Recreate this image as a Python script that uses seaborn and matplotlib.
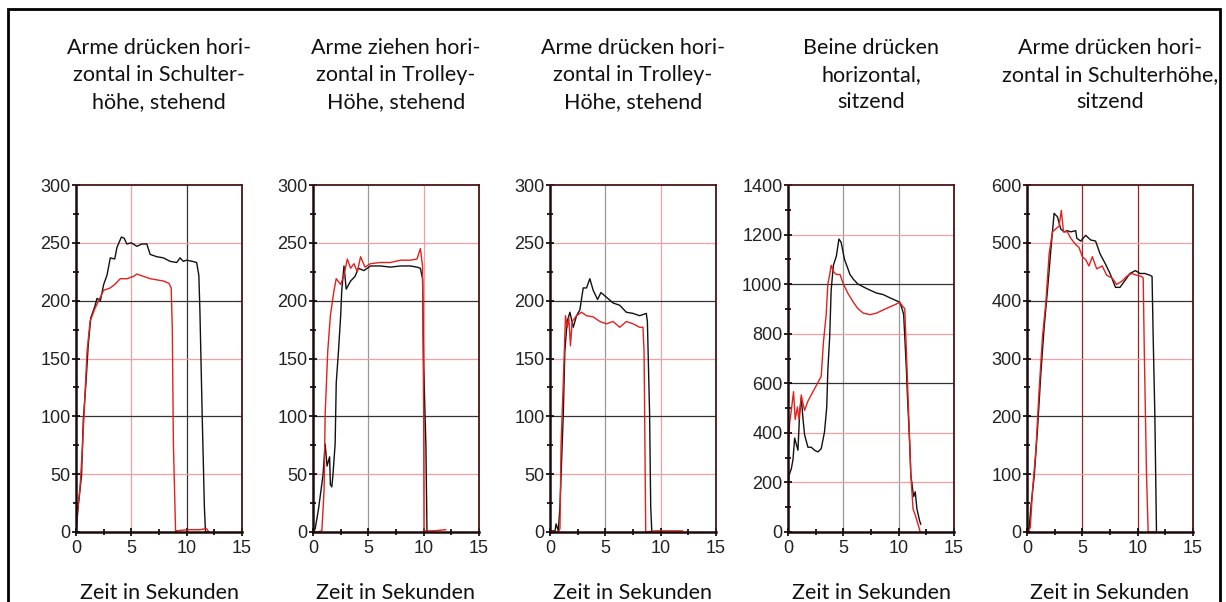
# Kraftverläufe bei fünf Tätigkeiten, schwarz und rot je eine Messung
import numpy as np
import pandas as pd
import matplotlib.pyplot as plt
from matplotlib.patches import Rectangle
import seaborn as sns

sns.set_style('white')
plt.rcParams['font.family'] = ['Liberation Sans', 'DejaVu Sans']

# Titel der Diagramme
titel = [
    "Arme drücken hori-\nzontal in Schulter-\nhöhe, stehend",
    "Arme ziehen hori-\nzontal in Trolley-\nHöhe, stehend",
    "Arme drücken hori-\nzontal in Trolley-\nHöhe, stehend",
    "Beine drücken\nhorizontal,\nsitzend",
    "Arme drücken hori-\nzontal in Schulterhöhe,\nsitzend",
]
x_label = "Zeit in Sekunden"

# Panel 1: Arme drücken, Schulterhöhe, stehend
p1_t_schwarz = [0, 0.2, 0.5, 0.66, 0.9, 1.1, 1.33, 1.7, 1.9, 2.2, 2.5, 2.8, 3.1, 3.5, 3.7, 4.1, 4.35, 4.6,
                5.0, 5.5, 5.95, 6.4, 6.7, 7.3, 7.9, 8.5, 9.1, 9.4, 9.7, 10.0, 10.5, 10.9, 11.1, 11.2, 11.4,
                11.6, 11.7, 12.0]
p1_y_schwarz = [0, 22, 49, 97, 129, 161, 185, 195, 202, 200, 214, 222, 237, 236, 246, 255, 254, 249,
                250, 247, 249, 249, 240, 238, 237, 234, 233, 237, 234, 235, 234, 233, 222, 190, 102,
                22, 0, 0]
p1_t_rot = [0, 0.1, 0.36, 0.6, 0.8, 1.0, 1.27, 1.7, 2.2, 2.5, 3.1, 3.5, 4.0, 4.6, 5.2, 5.5, 6.1, 6.7,
            7.3, 7.9, 8.4, 8.6, 8.7, 8.8, 9.0, 9.1, 10.0, 11.2, 11.8, 12.0]
p1_y_rot = [1, 15, 38, 76, 116, 156, 182, 193, 203, 209, 211, 214, 219, 219, 221, 223, 221, 219,
            218, 217, 215, 211, 177, 76, 0, 1, 2, 2, 3, 0]

# Panel 2: Arme ziehen, Trolley-Höhe, stehend
p2_t_schwarz = [0, 0.2, 0.5, 0.9, 1.1, 1.27, 1.5, 1.57, 1.7, 1.8, 2.0, 2.1, 2.3, 2.5, 2.6, 2.8, 3.0,
                3.4, 3.8, 4.1, 4.6, 5.2, 6.1, 7.0, 7.9, 8.8, 9.4, 9.7, 9.9, 10.0, 10.2, 10.3]
p2_y_schwarz = [0, 3, 20, 49, 76, 57, 65, 41, 39, 49, 76, 129, 156, 187, 209, 230, 210,
                217, 221, 228, 226, 230, 230, 229, 230, 230, 229, 228, 219, 142, 76, 0]
p2_t_rot = [0, 0.4, 0.8, 1.0, 1.1, 1.33, 1.57, 1.9, 2.1, 2.5, 2.8, 3.1, 3.4, 3.7, 4.0, 4.3, 4.7, 5.2,
            6.1, 7.0, 7.9, 8.8, 9.4, 9.7, 9.9, 10.0, 10.03, 10.9, 12.0]
p2_y_rot = [1, 0, 1, 36, 102, 156, 187, 209, 219, 214, 222, 236, 228, 232, 225, 238, 229, 232,
            233, 233, 235, 235, 236, 245, 230, 102, 1, 1, 2]

# Panel 3: Arme drücken, Trolley-Höhe, stehend
p3_t_schwarz = [0, 0.45, 0.55, 0.75, 0.9, 1.0, 1.2, 1.34, 1.55, 1.8, 2.1, 2.4, 2.7, 3.0, 3.3, 3.6, 3.9,
                4.3, 4.6, 5.1, 5.7, 6.3, 6.9, 7.5, 8.1, 8.7, 8.8, 9.0, 9.1, 9.2]
p3_y_schwarz = [1, 1, 7, 1, 22, 49, 102, 156, 182, 190, 177, 187, 192, 211, 211, 219, 209,
                201, 207, 203, 198, 196, 190, 189, 187, 189, 182, 102, 22, 0]
p3_t_rot = [0, 0.75, 0.9, 1.0, 1.2, 1.4, 1.55, 1.7, 1.85, 2.0, 2.4, 2.85, 3.3, 3.9, 4.5, 5.1, 5.7, 6.3,
            6.9, 7.5, 8.1, 8.4, 8.5, 8.65, 9.5, 12.0]
p3_y_rot = [1, 0, 3, 76, 129, 187, 177, 185, 161, 182, 187, 190, 187, 186, 182, 180, 182, 177,
            182, 180, 177, 177, 156, 0, 1, 1]

# Panel 4: Beine drücken, sitzend
p4_t_schwarz = [0, 0.1, 0.3, 0.45, 0.6, 0.75, 0.9, 1.05, 1.2, 1.36, 1.5, 1.8, 2.1, 2.4, 2.7, 3.0, 3.3,
                3.5, 3.6, 3.77, 3.9, 4.1, 4.37, 4.6, 4.8, 5.1, 5.6, 5.9, 6.3, 6.8, 7.4, 8.0, 8.6, 9.2,
                9.8, 10.1, 10.3, 10.45, 10.55, 10.7, 10.8, 11.0, 11.1, 11.35, 11.5, 11.65, 11.9, 12.0]
p4_y_schwarz = [168, 230, 255, 292, 379, 354, 330, 479, 541, 454, 392, 342, 342, 330, 323, 336, 404,
                503, 653, 790, 976, 1076, 1113, 1182, 1169, 1101, 1039, 1020, 1001, 989, 976, 964, 958, 945,
                933, 927, 902, 877, 790, 653, 541, 354, 230, 143, 162, 93, 44, 31]
p4_t_rot = [0, 0.15, 0.3, 0.5, 0.65, 0.85, 1.0, 1.2, 1.36, 1.5, 1.8, 2.1, 2.4, 2.7, 3.0, 3.2, 3.45, 3.6,
            3.77, 3.9, 4.1, 4.37, 4.7, 5.0, 5.4, 5.9, 6.3, 6.8, 7.4, 8.0, 8.6, 9.2, 9.8, 10.1, 10.4,
            10.55, 10.7, 10.8, 11.0, 11.1, 11.3, 11.5, 11.75, 11.95]
p4_y_rot = [305, 441, 491, 566, 454, 504, 454, 553, 516, 491, 528, 553, 578, 603, 628, 765, 877, 1001,
            1039, 1076, 1051, 1039, 1039, 1001, 964, 927, 902, 883, 877, 883, 896, 908, 920, 927, 908,
            902, 728, 603, 354, 230, 93, 68, 31, 0]

# Panel 5: Arme drücken, Schulterhöhe, sitzend
p5_t_schwarz = [0, 0.2, 0.36, 0.66, 0.95, 1.25, 1.55, 1.85, 2.15, 2.45, 2.75, 3.05, 3.35, 3.65, 3.95,
                4.4, 4.5, 4.85, 5.3, 5.75, 6.2, 6.6, 7.1, 7.5, 8.0, 8.4, 8.9, 9.3, 9.8, 10.2, 10.65,
                11.1, 11.3, 11.4, 11.55, 11.7]
p5_y_schwarz = [0, 8, 45, 98, 178, 274, 354, 418, 487, 551, 545, 524, 519, 521, 519,
                521, 508, 503, 513, 505, 503, 481, 463, 447, 423, 423, 436, 447, 452, 447, 447,
                444, 442, 338, 205, 0]
p5_t_rot = [0, 0.1, 0.3, 0.5, 0.8, 1.1, 1.4, 1.7, 2.0, 2.3, 2.6, 2.9, 3.1, 3.3, 3.65, 3.95, 4.4, 4.7,
            5.0, 5.3, 5.6, 5.9, 6.3, 6.8, 7.2, 7.7, 8.1, 8.6, 9.0, 9.45, 9.9, 10.35, 10.5, 10.6, 10.65,
            10.8, 10.95, 11.7]
p5_y_rot = [19, 0, 8, 72, 141, 247, 338, 396, 481, 519, 524, 529, 556, 519, 519, 508, 497, 492,
            476, 471, 460, 476, 455, 460, 444, 439, 428, 434, 442, 447, 444, 442, 439, 311, 258,
            98, 0, 0]

kurven = [
    (p1_t_schwarz, p1_y_schwarz, p1_t_rot, p1_y_rot),
    (p2_t_schwarz, p2_y_schwarz, p2_t_rot, p2_y_rot),
    (p3_t_schwarz, p3_y_schwarz, p3_t_rot, p3_y_rot),
    (p4_t_schwarz, p4_y_schwarz, p4_t_rot, p4_y_rot),
    (p5_t_schwarz, p5_y_schwarz, p5_t_rot, p5_y_rot),
]

# y-Achsen: Maximum, Hauptteilung
y_max = [300, 300, 300, 1400, 600]
y_step = [50, 50, 50, 200, 100]

# Gitterfarben
ROT = '#f0a0a0'
SCHWARZ = '#333333'
DUNKELROT = '#a02020'
GRAU = '#999999'
v_grid = [(ROT, SCHWARZ), (GRAU, ROT), (GRAU, ROT), (GRAU, GRAU), (DUNKELROT, DUNKELROT)]
h_grid = [
    {50: ROT, 100: SCHWARZ, 150: ROT, 200: SCHWARZ, 250: ROT},
    {50: ROT, 100: SCHWARZ, 150: ROT, 200: SCHWARZ, 250: ROT},
    {50: ROT, 100: SCHWARZ, 150: ROT, 200: SCHWARZ, 250: ROT},
    {200: ROT, 400: ROT, 600: SCHWARZ, 800: ROT, 1000: SCHWARZ, 1200: ROT},
    {100: ROT, 200: SCHWARZ, 300: ROT, 400: SCHWARZ, 500: ROT},
]

W, H = 1226, 602
fig = plt.figure(figsize=(W / 100, H / 100), dpi=100)
fig.patches.append(Rectangle((8 / W, -0.1), 1212 / W, 1.1 - 9 / H, transform=fig.transFigure,
                             fill=False, edgecolor='black', linewidth=2))

lefts = [76, 313, 550, 788, 1027]
for i, left in enumerate(lefts):
    ax = fig.add_axes([left / W, (H - 532) / H, 166 / W, 347 / H])
    t_s, y_s, t_r, y_r = kurven[i]

    for x, c in zip([5, 10], v_grid[i]):
        ax.axvline(x, color=c, linewidth=0.9, zorder=0)
    for y, c in h_grid[i].items():
        ax.axhline(y, color=c, linewidth=0.9, zorder=0)

    sns.lineplot(x=t_s, y=y_s, ax=ax, color='#111111', linewidth=1.0, sort=False, estimator=None)
    sns.lineplot(x=t_r, y=y_r, ax=ax, color='#e3201c', linewidth=1.0, sort=False, estimator=None)

    ax.set_xlim(0, 15)
    ax.set_ylim(0, y_max[i])
    ax.set_xticks([0, 5, 10, 15])
    ax.set_xticks([2.5, 7.5, 12.5], minor=True)
    ax.set_yticks(np.arange(0, y_max[i] + 1, y_step[i]))
    ax.set_yticks(np.arange(y_step[i] / 2, y_max[i], y_step[i]), minor=True)
    ax.tick_params(which='major', direction='inout', length=6, width=1.2, labelsize=13,
                   colors='black', labelcolor='#222222', pad=1)
    ax.tick_params(axis='x', which='major', pad=3)
    ax.tick_params(which='minor', direction='inout', length=4, width=1.2, colors='black')
    ax.tick_params(axis='y', which='both', left=True)
    ax.tick_params(axis='x', which='both', bottom=True)
    for s in ['left', 'bottom']:
        ax.spines[s].set_color('#1a0a0a')
        ax.spines[s].set_linewidth(1.8)
    for s in ['top', 'right']:
        ax.spines[s].set_color('#4a1414')
        ax.spines[s].set_linewidth(1.3)
    ax.set_xlabel('')
    ax.set_ylabel('')

    cx = (left + 83) / W
    fig.text(cx, 1 - 75 / H, titel[i], ha='center', va='center', fontsize=15.5,
             family=['Lato', 'DejaVu Sans'], linespacing=1.42, color='#111111')
    fig.text(cx, 3 / H, x_label, ha='center', va='baseline', fontsize=15.5,
             family=['Lato', 'DejaVu Sans'], color='#111111')

fig.savefig('out.png', dpi=100)
